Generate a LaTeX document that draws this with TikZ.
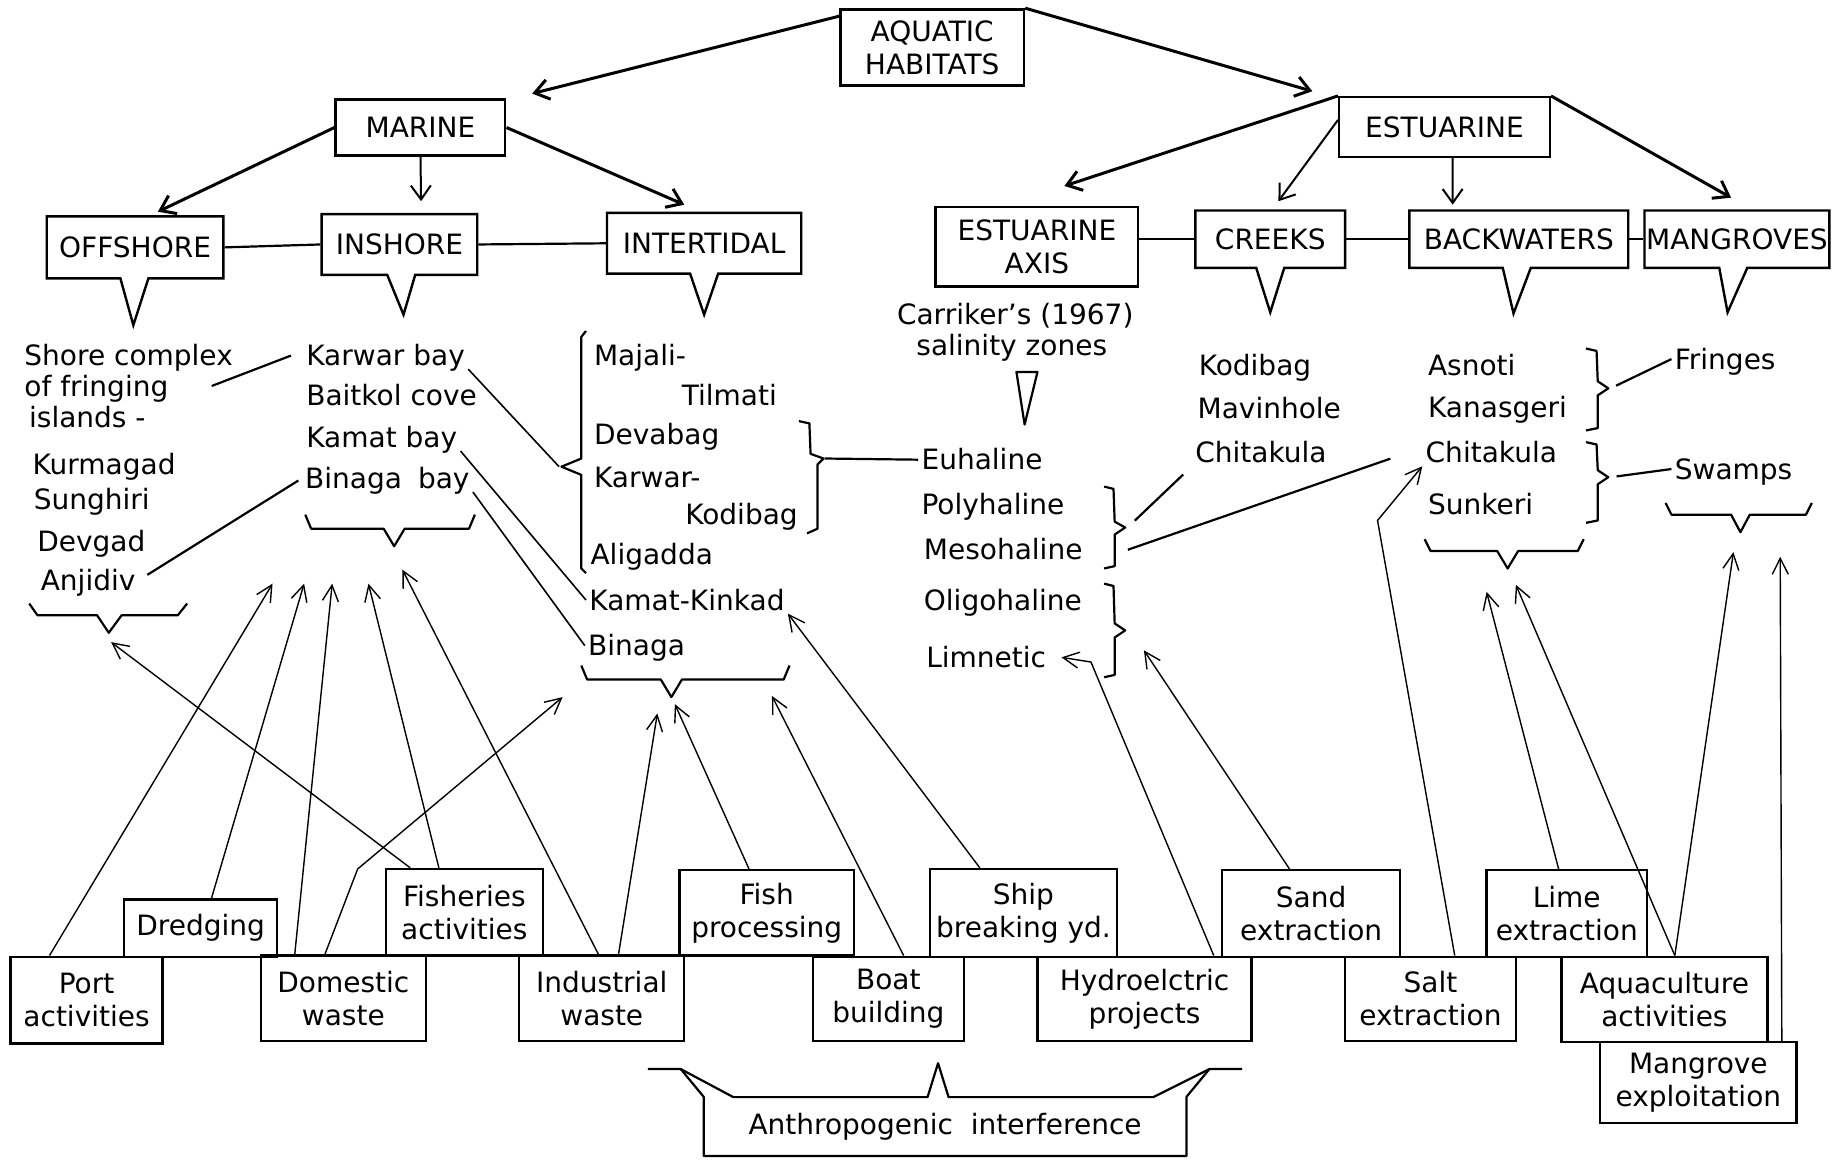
\documentclass[tikz,border=0pt]{standalone}
\usepackage{fontspec}
\setmainfont{DejaVu Sans}
\usetikzlibrary{arrows.meta,shapes.callouts,calc}
\pgfdeclarelayer{edgelayer}
\pgfdeclarelayer{nodelayer}
\pgfsetlayers{edgelayer,nodelayer,main}
\tikzstyle{labelbox}=[draw=black, line width=1.2pt, inner sep=0pt, align=center, font=\fontsize{14}{16.5}\selectfont]
\tikzstyle{bubble}=[labelbox, rectangle callout, callout pointer width=14pt]
\tikzstyle{listtext}=[anchor=west, inner sep=1.5pt, text height=10.2pt, text depth=0pt, font=\fontsize{14}{16.5}\selectfont]
\tikzstyle{note}=[inner sep=1.5pt, align=center, font=\fontsize{14}{16.5}\selectfont]
\tikzstyle{plainline}=[draw=black, line width=1.1pt]
\tikzstyle{bracket}=[draw=black, line width=1.1pt, line join=round]
\tikzstyle{thickarrow}=[draw=black, line width=1.5pt, -{Straight Barb[length=7pt,width=10pt]}]
\tikzstyle{thinarrow}=[draw=black, line width=0.7pt, -{Straight Barb[length=8pt,width=8pt]}]

\begin{document}
\begin{tikzpicture}[x=0.5848pt, y=-0.5848pt]
			\useasboundingbox (0,0) rectangle (1568,992);
			\begin{pgfonlayer}{nodelayer}
			\node [style=labelbox, minimum width=91.8pt, minimum height=38pt] (aquatic) at (797, 40.5) {AQUATIC\\HABITATS};
			\node [style=labelbox, minimum width=84.8pt, minimum height=28.1pt] (marine) at (359.5, 109) {MARINE};
			\node [style=labelbox, minimum width=105.3pt, minimum height=29.8pt] (estuarine) at (1235, 108.5) {ESTUARINE};
			\node [style=bubble, minimum width=88.3pt, minimum height=31pt, callout absolute pointer={(114,278)}] (offshore) at (115.5, 211.5) {OFFSHORE};
			\node [style=bubble, minimum width=77.8pt, minimum height=30.4pt, callout absolute pointer={(345,269)}] (inshore) at (341.5, 209) {INSHORE};
			\node [style=bubble, minimum width=97.1pt, minimum height=30.4pt, callout absolute pointer={(602,269)}] (intertidal) at (602, 208) {INTERTIDAL};
			\node [style=labelbox, minimum width=101.2pt, minimum height=39.8pt] (axis) at (886.5, 211) {ESTUARINE\\AXIS};
			\node [style=bubble, minimum width=74.9pt, minimum height=28.7pt, callout absolute pointer={(1086,267)}] (creeks) at (1086, 204.5) {CREEKS};
			\node [style=bubble, minimum width=109.4pt, minimum height=28.7pt, callout absolute pointer={(1294,268)}] (backwaters) at (1298.5, 204.5) {BACKWATERS};
			\node [style=bubble, minimum width=92.4pt, minimum height=28.7pt, callout absolute pointer={(1477,267)}] (mangroves) at (1485, 204.5) {MANGROVES};
			\node [style=note] (carriker) at (868, 270) {Carriker's (1967)};
			\node [style=note] (zones) at (865, 297) {salinity zones};
			\node [style=listtext] (shore) at (18, 304) {Shore complex};
			\node [style=listtext] (fringing) at (18, 330) {of fringing};
			\node [style=listtext] (islands) at (22, 357) {islands -};
			\node [style=listtext] (kurmagad) at (25, 397) {Kurmagad};
			\node [style=listtext] (sunghiri) at (26, 427) {Sunghiri};
			\node [style=listtext] (devgad) at (29, 463) {Devgad};
			\node [style=listtext] (anjidiv) at (32, 496) {Anjidiv};
			\node [style=listtext] (karwar) at (259, 304) {Karwar bay};
			\node [style=listtext] (baitkol) at (259, 338) {Baitkol cove};
			\node [style=listtext] (kamatbay) at (259, 374) {Kamat bay};
			\node [style=listtext] (binagabay) at (258, 409) {Binaga\hspace{8pt}bay};
			\node [style=listtext] (majali) at (505, 304) {Majali-};
			\node [style=listtext] (tilmati) at (580, 338) {Tilmati};
			\node [style=listtext] (devabag) at (505, 371) {Devabag};
			\node [style=listtext] (karwarint) at (505, 408) {Karwar-};
			\node [style=listtext] (kodibag) at (583, 440) {Kodibag};
			\node [style=listtext] (aligadda) at (502, 474) {Aligadda};
			\node [style=listtext] (kamatkinkad) at (501, 513) {Kamat-Kinkad};
			\node [style=listtext] (binaga) at (500, 552) {Binaga};
			\node [style=listtext] (euhaline) at (785, 393) {Euhaline};
			\node [style=listtext] (polyhaline) at (785, 431) {Polyhaline};
			\node [style=listtext] (mesohaline) at (787, 470) {Mesohaline};
			\node [style=listtext] (oligohaline) at (787, 513) {Oligohaline};
			\node [style=listtext] (limnetic) at (789, 562) {Limnetic};
			\node [style=listtext] (kodibagc) at (1022, 312) {Kodibag};
			\node [style=listtext] (mavinhole) at (1021, 349) {Mavinhole};
			\node [style=listtext] (chitakulac) at (1019, 387) {Chitakula};
			\node [style=listtext] (asnoti) at (1218, 312) {Asnoti};
			\node [style=listtext] (kanasgeri) at (1218, 348) {Kanasgeri};
			\node [style=listtext] (chitakulab) at (1216, 387) {Chitakula};
			\node [style=listtext] (sunkeri) at (1218, 431) {Sunkeri};
			\node [style=listtext] (fringes) at (1429, 307) {Fringes};
			\node [style=listtext] (swamps) at (1429, 401) {Swamps};
			\node [style=labelbox, minimum width=76pt, minimum height=43.3pt] (port) at (74, 855) {Port\\activities};
			\node [style=labelbox, minimum width=76.6pt, minimum height=28.7pt] (dredging) at (171.5, 793.5) {Dredging};
			\node [style=labelbox, minimum width=82.5pt, minimum height=42.7pt] (domestic) at (293.5, 853.5) {Domestic\\waste};
			\node [style=labelbox, minimum width=78.4pt, minimum height=43.3pt] (fisheries) at (397, 780) {Fisheries\\activities};
			\node [style=labelbox, minimum width=82.5pt, minimum height=42.7pt] (industrial) at (514.5, 853.5) {Industrial\\waste};
			\node [style=labelbox, minimum width=87.1pt, minimum height=42.7pt] (processing) at (655.5, 780.5) {Fish\\processing};
			\node [style=labelbox, minimum width=75.4pt, minimum height=42.1pt] (boat) at (759.5, 854) {Boat\\building};
			\node [style=labelbox, minimum width=93.6pt, minimum height=43.9pt] (ship) at (875, 780.5) {Ship\\breaking yd.};
			\node [style=labelbox, minimum width=107pt, minimum height=42.1pt] (hydro) at (978.5, 854) {Hydroelctric\\projects};
			\node [style=labelbox, minimum width=88.9pt, minimum height=43.3pt] (sand) at (1121, 781) {Sand\\extraction};
			\node [style=labelbox, minimum width=85.4pt, minimum height=42.1pt] (salt) at (1223, 854) {Salt\\extraction};
			\node [style=labelbox, minimum width=80.1pt, minimum height=43.3pt] (lime) at (1339.5, 781) {Lime\\extraction};
			\node [style=labelbox, minimum width=102.9pt, minimum height=42.7pt] (aquaculture) at (1423, 854.5) {Aquaculture\\activities};
			\node [style=labelbox, minimum width=98.2pt, minimum height=40.4pt] (exploitation) at (1452, 925.5) {Mangrove\\exploitation};
			\node [style=note, minimum width=241pt, minimum height=29.2pt] (anthro) at (808, 963) {Anthropogenic\ \ interference};
			\coordinate (t-marine) at (455, 80);
			\coordinate (t-estuarine) at (1122, 78);
			\coordinate (t-offshore) at (135, 181);
			\coordinate (t-inshore) at (360, 172);
			\coordinate (t-intertidal) at (585, 175);
			\coordinate (t-axis) at (910, 159);
			\coordinate (t-creeks) at (1093, 172);
			\coordinate (t-backwaters) at (1242, 175);
			\coordinate (t-mangroves) at (1480, 169);
			\coordinate (b-intertidal) at (478, 399);
			\coordinate (b-devabag) at (705, 392);
			\coordinate (b-polymeso) at (964, 451);
			\coordinate (b-asnoti) at (1377, 332);
			\coordinate (b-chitakula) at (1377, 408);
			\coordinate (t-port) at (233, 499);
			\coordinate (t-dredging) at (260, 499);
			\coordinate (t-domestic) at (284, 499);
			\coordinate (t-domestic2) at (481, 596);
			\coordinate (t-fisheries) at (315, 499);
			\coordinate (t-fisheries2) at (95, 549);
			\coordinate (t-industrial) at (344, 487);
			\coordinate (t-industrial2) at (562, 610);
			\coordinate (t-processing) at (577, 602);
			\coordinate (t-boat) at (660, 595);
			\coordinate (t-sand) at (978, 556);
			\coordinate (t-lime) at (1271, 506);
			\coordinate (t-aquaculture) at (1296, 500);
			\coordinate (t-aquaculture2) at (1482, 472);
			\coordinate (t-exploitation) at (1522, 476);
			\end{pgfonlayer}
			\begin{pgfonlayer}{edgelayer}
			\draw [style=thickarrow] ([yshift=-4pt]aquatic.north west) -- (t-marine);
			\draw [style=thickarrow] (aquatic.north east) -- (t-estuarine);
			\draw [style=thickarrow] (marine.west) -- (t-offshore);
			\draw [style=thickarrow, line width=1pt] (marine.south) -- (t-inshore);
			\draw [style=thickarrow] (marine.east) -- (t-intertidal);
			\draw [style=thickarrow] (estuarine.north west) -- (t-axis);
			\draw [style=thickarrow, line width=1pt] ([yshift=-12pt]estuarine.north west) -- (t-creeks);
			\draw [style=thickarrow, line width=1pt] ([xshift=4pt]estuarine.south) -- (t-backwaters);
			\draw [style=thickarrow] (estuarine.north east) -- (t-mangroves);
			\draw [style=plainline] (offshore.east) -- (inshore.west);
			\draw [style=plainline] (inshore.east) -- (intertidal.west);
			\draw [style=plainline] (axis.east |- creeks.west) -- (creeks.west);
			\draw [style=plainline] (creeks.east) -- (backwaters.west);
			\draw [style=plainline] (backwaters.east) -- (mangroves.west);
			\draw [style=bracket] (869, 318) -- (887, 318) -- (876, 363) -- cycle;
			\draw [style=bracket] (25, 516) -- (32, 526) -- (83, 526) -- (93, 541) -- (104, 526) -- (152, 526) -- (160, 516);
			\draw [style=bracket] (261, 440) -- (266, 452) -- (328, 452) -- (337, 467) -- (346, 452) -- (401, 452) -- (406, 440);
			\draw [style=bracket] (497, 569) -- (502, 581) -- (565, 581) -- (574, 596) -- (583, 581) -- (670, 581) -- (675, 569);
			\draw [style=bracket] (1218, 461) -- (1223, 471) -- (1280, 471) -- (1289, 486) -- (1298, 471) -- (1349, 471) -- (1354, 461);
			\draw [style=bracket] (1424, 430) -- (1429, 440) -- (1480, 440) -- (1488, 455) -- (1496, 440) -- (1544, 440) -- (1549, 430);
			\draw [style=bracket] (501, 283) -- (497, 288) -- (497, 392) -- (480, 399) -- (497, 406) -- (497, 486) -- (501, 490);
			\draw [style=bracket] (683, 360) -- (692, 362) -- (693, 388) -- (704, 392) -- (699, 397) -- (699, 452) -- (690, 456);
			\draw [style=bracket] (944, 416) -- (952, 418) -- (953, 446) -- (962, 451) -- (953, 457) -- (953, 484) -- (944, 486);
			\draw [style=bracket] (944, 499) -- (952, 501) -- (953, 533) -- (962, 539) -- (953, 545) -- (953, 577) -- (944, 579);
			\draw [style=bracket] (1356, 298) -- (1365, 300) -- (1366, 326) -- (1375, 332) -- (1366, 338) -- (1366, 366) -- (1356, 368);
			\draw [style=bracket] (1356, 378) -- (1365, 380) -- (1366, 402) -- (1375, 408) -- (1366, 414) -- (1366, 445) -- (1356, 447);
			\draw [style=bracket] (554, 914) -- (582, 914) -- (anthro.north west) -- (anthro.south west) -- (anthro.south east) -- (anthro.north east) -- (1034, 914) -- (1062, 914);
			\draw [style=bracket] (582, 914) -- (627, 938) -- (793, 938) -- (802, 909) -- (811, 938) -- (986, 938) -- (1034, 914);
			\draw [style=plainline] ([xshift=20pt]fringing.east) -- ([xshift=-6pt]karwar.west);
			\draw [style=plainline, shorten <=5pt, shorten >=2pt] (anjidiv.east) -- (binagabay.west);
			\draw [style=plainline, line width=0.8pt] (karwar.south east) -- (b-intertidal);
			\draw [style=plainline, line width=0.8pt] (kamatbay.south east) -- (kamatkinkad.west);
			\draw [style=plainline, line width=0.8pt] (binagabay.south east) -- (binaga.west);
			\draw [style=plainline] (b-devabag) -- (euhaline.west);
			\draw [style=plainline, shorten <=5pt, shorten >=6pt] (b-polymeso) -- (chitakulac.south west);
			\draw [style=plainline] ([xshift=21pt]mesohaline.east) -- ([xshift=-16pt, yshift=-3pt]chitakulab.west);
			\draw [style=plainline, shorten <=3pt] (b-asnoti) -- (fringes.west);
			\draw [style=plainline, shorten <=3pt] (b-chitakula) -- (swamps.west);
			\draw [style=thinarrow] ($(port.north west)!.26!(port.north east)$) -- (t-port);
			\draw [style=thinarrow] ($(dredging.north west)!.57!(dredging.north east)$) -- (t-dredging);
			\draw [style=thinarrow] ($(domestic.north west)!.21!(domestic.north east)$) -- (t-domestic);
			\draw [style=thinarrow] ($(domestic.north west)!.39!(domestic.north east)$) -- ++(28, -73) -- (t-domestic2);
			\draw [style=thinarrow] ($(fisheries.north west)!.34!(fisheries.north east)$) -- (t-fisheries);
			\draw [style=thinarrow] ($(fisheries.north west)!.16!(fisheries.north east)$) -- (t-fisheries2);
			\draw [style=thinarrow] ($(industrial.north west)!.48!(industrial.north east)$) -- (t-industrial);
			\draw [style=thinarrow] ($(industrial.north west)!.60!(industrial.north east)$) -- (t-industrial2);
			\draw [style=thinarrow] ($(processing.north west)!.40!(processing.north east)$) -- (t-processing);
			\draw [style=thinarrow] ($(boat.north west)!.60!(boat.north east)$) -- (t-boat);
			\draw [style=thinarrow] ($(ship.north west)!.27!(ship.north east)$) -- (kamatkinkad.south east);
			\draw [style=thinarrow] ($(hydro.north west)!.82!(hydro.north east)$) -- ++(-105, -251) -- ([xshift=6pt]limnetic.east);
			\draw [style=thinarrow] ($(sand.north west)!.38!(sand.north east)$) -- (t-sand);
			\draw [style=thinarrow] ($(salt.north west)!.64!(salt.north east)$) -- ++(-66, -372) -- (chitakulab.south west);
			\draw [style=thinarrow] ($(lime.north west)!.45!(lime.north east)$) -- (t-lime);
			\draw [style=thinarrow] ($(aquaculture.north west)!.55!(aquaculture.north east)$) -- (t-aquaculture);
			\draw [style=thinarrow] ($(aquaculture.north west)!.55!(aquaculture.north east)$) -- (t-aquaculture2);
			\draw [style=thinarrow] ($(exploitation.north west)!.92!(exploitation.north east)$) -- (t-exploitation);
			\end{pgfonlayer}
\end{tikzpicture}
\end{document}
